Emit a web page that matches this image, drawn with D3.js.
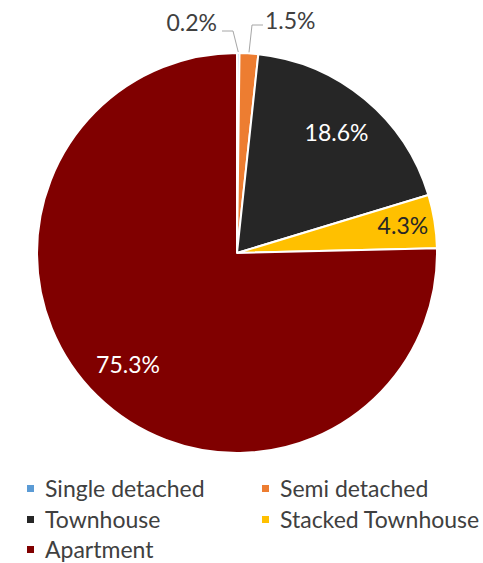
<!DOCTYPE html>
<html>
<head>
<meta charset="utf-8">
<script src="https://cdn.jsdelivr.net/npm/d3@7"></script>
<style>
	body { margin: 0; background: #fff; }
	text { font-family: Lato, 'Open Sans', sans-serif; }
</style>
</head>
<body>
<div id="chart"></div>
<script>
const categories = ['Single detached', 'Semi detached', 'Townhouse', 'Stacked Townhouse', 'Apartment'];
const shares = [0.2, 1.5, 18.6, 4.3, 75.3];
const colors = ['#5b9bd5', '#ed7d31', '#262626', '#ffc000', '#800000'];
const labelColors = ['#404040', '#404040', '#ffffff', '#262626', '#ffffff'];

const W = 483;
const H = 563;
const cx = 237;
const cy = 253;
const r = 200;
const fontSize = '23px';

const svg = d3.select('#chart').append('svg').attr('width', W).attr('height', H);

const data = categories.map((c, i) => ({ name: c, value: shares[i], i }));

const pie = d3
	.pie()
	.sort(null)
	.value((d) => d.value);

const arcs = pie(data);

const arc = d3.arc().innerRadius(0).outerRadius(r);

const g = svg.append('g').attr('transform', `translate(${cx},${cy})`);

g.selectAll('path')
	.data(arcs)
	.enter()
	.append('path')
	.attr('d', arc)
	.attr('fill', (d) => colors[d.data.i])
	.attr('stroke', '#fff')
	.attr('stroke-width', 2)
	.attr('stroke-linejoin', 'round');

// labels inside the bigger slices
const inside = arcs.filter((d) => d.data.value >= 2);
const outside = arcs.filter((d) => d.data.value < 2);

function labelPos(d) {
	const a = (d.startAngle + d.endAngle) / 2;
	const k = d.data.value < 5 ? 0.84 : 0.78;
	return [Math.sin(a) * r * k, -Math.cos(a) * r * k];
}

g.selectAll('.in-label')
	.data(inside)
	.enter()
	.append('text')
	.attr('class', 'in-label')
	.attr('x', (d) => labelPos(d)[0])
	.attr('y', (d) => labelPos(d)[1])
	.attr('dy', '0.35em')
	.attr('text-anchor', 'middle')
	.attr('font-size', fontSize)
	.attr('fill', (d) => labelColors[d.data.i])
	.text((d) => d.data.value.toFixed(1) + '%');

// small slices get leader lines up to labels above the pie
outside.forEach((d, j) => {
	const a = (d.startAngle + d.endAngle) / 2;
	const side = j === 0 ? -1 : 1;
	const px = Math.sin(a) * (r + 1);
	const py = -Math.cos(a) * (r + 1);
	const elbowX = side < 0 ? -4 : 15;
	const elbowY = side < 0 ? -222 : -228;
	const endX = side < 0 ? -15 : 26;

	g.append('polyline')
		.attr('points', [
			[px, py],
			[elbowX, elbowY],
			[endX, elbowY]
		].map((p) => p.join(',')).join(' '))
		.attr('fill', 'none')
		.attr('stroke', '#a6a6a6')
		.attr('stroke-width', 1);

	g.append('text')
		.attr('x', side < 0 ? -20 : 28)
		.attr('y', side < 0 ? -222 : -224)
		.attr('text-anchor', side < 0 ? 'end' : 'start')
		.attr('font-size', fontSize)
		.attr('fill', labelColors[d.data.i])
		.text(d.data.value.toFixed(1) + '%');
});

// legend
const legendX = [27, 262];
const legendY = [489, 520, 550];

const legendItems = svg
	.selectAll('.legend-item')
	.data(data)
	.enter()
	.append('g')
	.attr('class', 'legend-item')
	.attr('transform', (d, i) => `translate(${legendX[i % 2]},${legendY[Math.floor(i / 2)]})`);

legendItems
	.append('rect')
	.attr('x', 0)
	.attr('y', -4)
	.attr('width', 7)
	.attr('height', 7)
	.attr('fill', (d) => colors[d.i]);

legendItems
	.append('text')
	.attr('x', 18)
	.attr('y', 0)
	.attr('dy', '0.35em')
	.attr('font-size', fontSize)
	.attr('fill', '#404040')
	.text((d) => d.name);
</script>
</body>
</html>
